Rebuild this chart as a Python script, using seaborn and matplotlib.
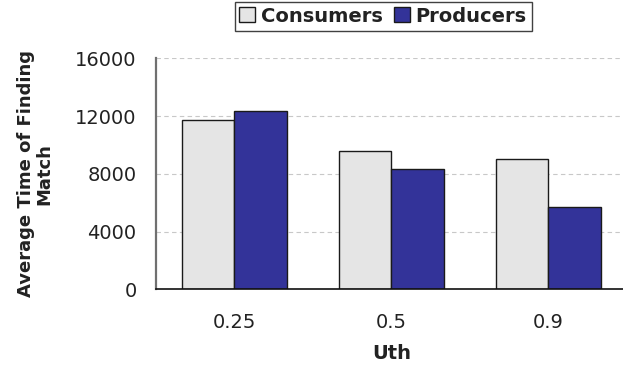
import matplotlib
matplotlib.use("Agg")
import matplotlib.pyplot as plt
from matplotlib.ticker import FixedLocator
import seaborn as sns
import pandas as pd

# Average time of finding a match per utility threshold
uth_labels = ["0.25", "0.5", "0.9"]
series_names = ["Consumers", "Producers"]
consumers = [11720, 9570, 9060]
producers = [12370, 8320, 5730]
y_ticks = [0, 4000, 8000, 12000, 16000]

df = pd.DataFrame({
    "Uth": uth_labels * 2,
    "Role": [series_names[0]] * 3 + [series_names[1]] * 3,
    "Time": consumers + producers,
})

sns.set_theme(style="white")
plt.rcParams["font.family"] = ["DejaVu Sans"]

fig = plt.figure(figsize=(6.23, 3.67), dpi=100)
ax = fig.add_axes([0.2504, 0.2117, 0.756, 0.629])

palette = {"Consumers": "#E5E5E5", "Producers": "#333399"}
sns.barplot(data=df, x="Uth", y="Time", hue="Role", order=uth_labels,
            hue_order=series_names, palette=palette, width=0.665, gap=0,
            edgecolor="#1a1a1a", linewidth=1.0, saturation=1, ax=ax,
            legend=True)

ax.set_xlim(-0.5, 2.5)
ax.set_ylim(0, 16000)
ax.set_yticks(y_ticks)
ax.set_yticklabels([str(v) for v in y_ticks])

# Dashed horizontal gridlines
ax.yaxis.grid(True, linestyle=(0, (4, 3)), color="#c8c8c8", linewidth=0.8)
ax.xaxis.grid(False)
ax.set_axisbelow(True)

# Category separators as outward ticks on the x axis
ax.xaxis.set_minor_locator(FixedLocator([-0.5, 0.5, 1.5, 2.5]))
ax.tick_params(axis="x", which="major", length=0, labelsize=14, pad=17,
               colors="#222222")
ax.tick_params(axis="x", which="minor", length=5, width=1.2,
               color="#555555", direction="out")
ax.tick_params(axis="y", which="major", length=7, width=1.0, color="#111111",
               direction="out", labelsize=14, pad=7, labelcolor="#222222")

for side in ["top", "right"]:
    ax.spines[side].set_visible(False)
ax.spines["left"].set_color("#707070")
ax.spines["left"].set_linewidth(1.6)
ax.spines["bottom"].set_color("#111111")
ax.spines["bottom"].set_linewidth(1.2)

ax.set_xlabel("Uth", fontsize=14, fontweight="bold", color="#222222",
              labelpad=9)
ax.set_ylabel("Average Time of Finding\nMatch", fontsize=13,
              fontweight="bold", color="#222222", linespacing=1.0)
ax.yaxis.set_label_coords(-0.218, 0.5)

handles, labels = ax.get_legend_handles_labels()
ax.legend_.remove()
leg = fig.legend(handles, labels, loc="center", bbox_to_anchor=(0.615, 0.956),
                 ncol=2, frameon=True, fancybox=False, handlelength=0.8,
                 handleheight=0.8, handletextpad=0.3, columnspacing=0.6,
                 borderpad=0.25, borderaxespad=0,
                 prop={"size": 14, "weight": "bold"})
leg.get_frame().set_edgecolor("#111111")
leg.get_frame().set_linewidth(1.0)
for t in leg.get_texts():
    t.set_color("#222222")

fig.savefig("out.png", dpi=100)
